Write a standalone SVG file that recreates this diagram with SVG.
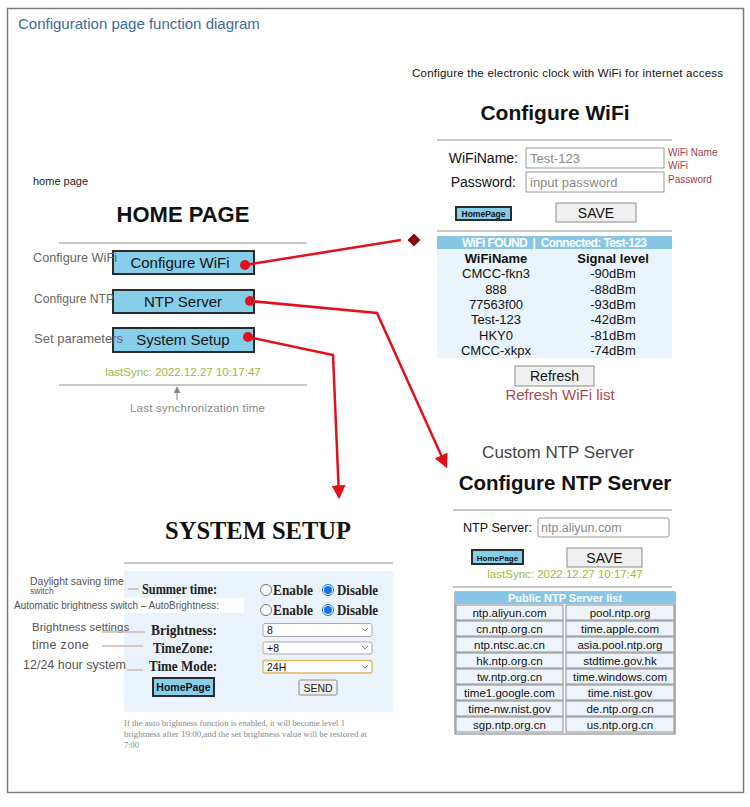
<svg xmlns="http://www.w3.org/2000/svg" width="750" height="807" viewBox="0 0 750 807">
<style>
.sans{font-family:"Liberation Sans","Noto Sans",Arial,sans-serif}
.serif{font-family:"Liberation Serif","DejaVu Serif",serif}
.btn{fill:#87ceeb;stroke:#2b2b2b;stroke-width:2}
.gbtn{fill:#f0f0f0;stroke:#8a8a8a;stroke-width:1}
.inp{fill:#fff;stroke:#9a9a9a;stroke-width:1}
.rule{stroke:#b4b4b4;stroke-width:1.5}
.lbl{fill:#666;font-size:13px}
.ann{fill:#555}
.annline{stroke:#d2b4b4;stroke-width:1.5}
.c{text-anchor:middle}
.cell{fill:#eef4fb;stroke:#8c8c8c;stroke-width:1}
.cellt{font-size:11.5px;fill:#111;text-anchor:middle}
.wrow{font-size:13px;fill:#111;text-anchor:middle}
.slbl{font-size:15px;fill:#222;font-weight:bold}
.radio{fill:#fff;stroke:#777;stroke-width:1}
.sel{fill:#fff;stroke:#aaa;stroke-width:1}
.chev{fill:none;stroke:#888;stroke-width:1}
.green{fill:#9cb83c;font-size:11.5px}
</style>
<defs>
<marker id="arrow" viewBox="0 0 12 12" refX="10" refY="6" markerWidth="14" markerHeight="14" markerUnits="userSpaceOnUse" orient="auto">
<path d="M0,0 L12,6 L0,12 z" fill="#e3101c"/>
</marker>
<marker id="diamond" viewBox="0 0 12 12" refX="-6" refY="6" markerWidth="13" markerHeight="13" markerUnits="userSpaceOnUse" orient="0">
<path d="M0,6 L6,0 L12,6 L6,12 z" fill="#8b0a0a"/>
</marker>
<marker id="garrow" viewBox="0 0 8 8" refX="7" refY="4" markerWidth="7" markerHeight="7" markerUnits="userSpaceOnUse" orient="auto">
<path d="M0,0 L8,4 L0,8 z" fill="#888"/>
</marker>
</defs>
<rect x="0" y="0" width="750" height="807" fill="#fff"/>
<rect x="7.5" y="8.5" width="736" height="784" fill="#fff" stroke="#7a7a7a" stroke-width="1.5"/>

<g id="title">
<text x="18" y="29" class="sans" font-size="15" fill="#3b6b98">Configuration page function diagram</text>
</g>
<g id="subtitle">
<text x="412" y="77" class="sans" font-size="11.5" fill="#111" textLength="311" lengthAdjust="spacing">Configure the electronic clock with WiFi for internet access</text>
</g>

<g id="home-page" class="sans">
<text x="33" y="185" font-size="11" fill="#222">home page</text>
<text x="183" y="222" class="c" font-size="22" font-weight="bold" fill="#111">HOME PAGE</text>
<line x1="59" y1="243" x2="307" y2="243" class="rule"/>
<rect x="113" y="251" width="141" height="23" class="btn"/>
<text x="180" y="268" class="c" font-size="15" fill="#111">Configure WiFi</text>
<rect x="113" y="290" width="141" height="23" class="btn"/>
<text x="183" y="307" class="c" font-size="15" fill="#111">NTP Server</text>
<rect x="113" y="328" width="141" height="24" class="btn"/>
<text x="183" y="345" class="c" font-size="15" fill="#111">System Setup</text>
<text x="33" y="262" class="lbl" textLength="84" lengthAdjust="spacingAndGlyphs">Configure WiFi</text>
<text x="34" y="303" class="lbl" textLength="80" lengthAdjust="spacingAndGlyphs">Configure NTP</text>
<text x="34" y="343" class="lbl" textLength="89" lengthAdjust="spacingAndGlyphs">Set parameters</text>
<text x="183" y="376" class="c green">lastSync: 2022.12.27 10:17:47</text>
<line x1="59" y1="385" x2="307" y2="385" class="rule"/>
<line x1="177" y1="400" x2="177" y2="387" stroke="#888" stroke-width="1" marker-end="url(#garrow)"/>
<text x="130" y="412" font-size="11.5" fill="#888" textLength="135" lengthAdjust="spacing">Last synchronization time</text>
</g>

<g id="wifi-page" class="sans">
<text x="555" y="120" class="c" font-size="21" font-weight="bold" fill="#111">Configure WiFi</text>
<line x1="437" y1="140" x2="672" y2="140" class="rule"/>
<text x="518" y="163" font-size="14" fill="#111" text-anchor="end">WiFiName:</text>
<rect x="526" y="148" width="138" height="20" class="inp"/>
<text x="530" y="163" font-size="13" fill="#888">Test-123</text>
<text x="516" y="187" font-size="14" fill="#111" text-anchor="end">Password:</text>
<rect x="526" y="172" width="138" height="20" class="inp"/>
<text x="530" y="187" font-size="13" fill="#888">input password</text>
<text x="668" y="156" font-size="10" fill="#a0404a">WiFi Name</text>
<text x="668" y="169" font-size="10" fill="#a0404a">WiFi</text>
<text x="668" y="183" font-size="10" fill="#a0404a">Password</text>
<rect x="456" y="207" width="55" height="13" class="btn" stroke-width="1.5"/>
<text x="483.5" y="217" class="c" font-size="8.5" font-weight="bold" fill="#111">HomePage</text>
<rect x="556" y="203" width="80" height="19" class="gbtn"/>
<text x="596" y="218" class="c" font-size="14" fill="#111">SAVE</text>
<line x1="437" y1="231" x2="672" y2="231" class="rule"/>
<rect x="437" y="236" width="235" height="122" fill="#eaf4fc"/>
<rect x="437" y="236" width="235" height="13" fill="#87c6e6"/>
<text x="462" y="247" font-size="12" font-weight="bold" fill="#fff" textLength="185" lengthAdjust="spacing" xml:space="preserve">WiFi FOUND  |  Connected: Test-123</text>
<text x="496" y="263" class="wrow" font-weight="bold">WiFiName</text>
<text x="613" y="263" class="wrow" font-weight="bold">Signal level</text>
<text x="496" y="278" class="wrow">CMCC-fkn3</text><text x="613" y="278" class="wrow">-90dBm</text>
<text x="496" y="294" class="wrow">888</text><text x="613" y="294" class="wrow">-88dBm</text>
<text x="496" y="309" class="wrow">77563f00</text><text x="613" y="309" class="wrow">-93dBm</text>
<text x="496" y="324" class="wrow">Test-123</text><text x="613" y="324" class="wrow">-42dBm</text>
<text x="496" y="340" class="wrow">HKY0</text><text x="613" y="340" class="wrow">-81dBm</text>
<text x="496" y="355" class="wrow">CMCC-xkpx</text><text x="613" y="355" class="wrow">-74dBm</text>
<rect x="515" y="366" width="79" height="20" class="gbtn"/>
<text x="554.5" y="381" class="c" font-size="14" fill="#111">Refresh</text>
<text x="560" y="400" class="c" font-size="15" fill="#b04a50">Refresh WiFi list</text>
</g>

<g id="ntp-page" class="sans">
<text x="558" y="458" class="c" font-size="17" fill="#444">Custom NTP Server</text>
<text x="565" y="490" class="c" font-size="20.5" font-weight="bold" fill="#111">Configure NTP Server</text>
<line x1="453" y1="510" x2="672" y2="510" class="rule"/>
<text x="463" y="532" font-size="13.5" fill="#111" textLength="69" lengthAdjust="spacingAndGlyphs">NTP Server:</text>
<rect x="538" y="518" width="131" height="19" rx="2" class="inp"/>
<text x="541" y="532" font-size="12.5" fill="#888">ntp.aliyun.com</text>
<rect x="472" y="550" width="51" height="14" class="btn" stroke-width="1.5"/>
<text x="497.5" y="560.5" class="c" font-size="8" font-weight="bold" fill="#111">HomePage</text>
<rect x="567" y="548" width="75" height="19" class="gbtn"/>
<text x="604.5" y="563" class="c" font-size="14" fill="#111">SAVE</text>
<text x="565" y="578" class="c green">lastSync: 2022.12.27 10:17:47</text>
<line x1="453" y1="587" x2="672" y2="587" class="rule"/>
<rect x="455" y="592" width="220" height="142" fill="#fff" stroke="#777" stroke-width="1"/>
<rect x="455" y="592" width="220" height="12" fill="#87c6e6"/>
<text x="565" y="602" class="c" font-size="11" font-weight="bold" fill="#fff">Public NTP Server list</text>
<g>
<rect x="456" y="605" width="107" height="15" class="cell"/><rect x="566" y="605" width="108" height="15" class="cell"/>
<rect x="456" y="621" width="107" height="15" class="cell"/><rect x="566" y="621" width="108" height="15" class="cell"/>
<rect x="456" y="637" width="107" height="15" class="cell"/><rect x="566" y="637" width="108" height="15" class="cell"/>
<rect x="456" y="653" width="107" height="15" class="cell"/><rect x="566" y="653" width="108" height="15" class="cell"/>
<rect x="456" y="669" width="107" height="15" class="cell"/><rect x="566" y="669" width="108" height="15" class="cell"/>
<rect x="456" y="685" width="107" height="15" class="cell"/><rect x="566" y="685" width="108" height="15" class="cell"/>
<rect x="456" y="701" width="107" height="15" class="cell"/><rect x="566" y="701" width="108" height="15" class="cell"/>
<rect x="456" y="717" width="107" height="15" class="cell"/><rect x="566" y="717" width="108" height="15" class="cell"/>
</g>
<text x="509.5" y="617" class="cellt">ntp.aliyun.com</text><text x="620" y="617" class="cellt">pool.ntp.org</text>
<text x="509.5" y="633" class="cellt">cn.ntp.org.cn</text><text x="620" y="633" class="cellt">time.apple.com</text>
<text x="509.5" y="649" class="cellt">ntp.ntsc.ac.cn</text><text x="620" y="649" class="cellt">asia.pool.ntp.org</text>
<text x="509.5" y="665" class="cellt">hk.ntp.org.cn</text><text x="620" y="665" class="cellt">stdtime.gov.hk</text>
<text x="509.5" y="681" class="cellt">tw.ntp.org.cn</text><text x="620" y="681" class="cellt">time.windows.com</text>
<text x="509.5" y="697" class="cellt">time1.google.com</text><text x="620" y="697" class="cellt">time.nist.gov</text>
<text x="509.5" y="713" class="cellt">time-nw.nist.gov</text><text x="620" y="713" class="cellt">de.ntp.org.cn</text>
<text x="509.5" y="729" class="cellt">sgp.ntp.org.cn</text><text x="620" y="729" class="cellt">us.ntp.org.cn</text>
</g>

<g id="system-setup" class="serif">
<text x="258" y="539" class="c" font-size="24.5" font-weight="bold" fill="#111">SYSTEM SETUP</text>
<line x1="124" y1="563" x2="393" y2="563" class="rule"/>
<rect x="124" y="571" width="269" height="141" fill="#eaf3fb"/>
<text x="142" y="594" class="slbl" textLength="75" lengthAdjust="spacingAndGlyphs">Summer time:</text>
<circle cx="266" cy="590" r="5.5" class="radio"/>
<text x="273" y="595" class="slbl" textLength="40" lengthAdjust="spacingAndGlyphs">Enable</text>
<circle cx="328" cy="590" r="5.5" fill="#fff" stroke="#1a73e8" stroke-width="1"/>
<circle cx="328" cy="590" r="4" fill="#1a73e8"/>
<text x="337" y="595" class="slbl" textLength="41" lengthAdjust="spacingAndGlyphs">Disable</text>
<circle cx="266" cy="610" r="5.5" class="radio" stroke="#bbb"/>
<text x="273" y="615" class="slbl" textLength="40" lengthAdjust="spacingAndGlyphs">Enable</text>
<circle cx="328" cy="610" r="5.5" fill="#fff" stroke="#1a73e8" stroke-width="1"/>
<circle cx="328" cy="610" r="4" fill="#1a73e8"/>
<text x="337" y="615" class="slbl" textLength="41" lengthAdjust="spacingAndGlyphs">Disable</text>
<text x="151" y="635" class="slbl" textLength="66" lengthAdjust="spacingAndGlyphs">Brightness:</text>
<rect x="263" y="623.5" width="109" height="13" rx="2" class="sel"/>
<text x="267" y="634" font-size="10.5" fill="#111" class="sans">8</text>
<polyline points="362,628 365,631 368,628" class="chev"/>
<text x="153" y="653" class="slbl" textLength="60" lengthAdjust="spacingAndGlyphs">TimeZone:</text>
<rect x="263" y="642" width="109" height="12" rx="2" class="sel"/>
<text x="267" y="652" font-size="10.5" fill="#111" class="sans">+8</text>
<polyline points="362,646 365,649 368,646" class="chev"/>
<text x="149" y="671" class="slbl" textLength="68" lengthAdjust="spacingAndGlyphs">Time Mode:</text>
<rect x="263" y="660.5" width="109" height="12.5" rx="2" fill="#fff" stroke="#e2b45a" stroke-width="1.3"/>
<text x="267" y="670.5" font-size="10.5" fill="#111" class="sans">24H</text>
<polyline points="362,665 365,668 368,665" class="chev"/>
<rect x="153" y="678" width="61" height="18" class="btn" stroke-width="1.5"/>
<text x="183.5" y="691" class="c sans" font-size="10.5" font-weight="bold" fill="#111">HomePage</text>
<rect x="299" y="680" width="38" height="15" rx="1.5" class="gbtn"/>
<text x="318" y="691.5" class="c sans" font-size="10.5" fill="#222">SEND</text>
<text x="124" y="726" font-size="8.5" fill="#888" textLength="221" lengthAdjust="spacingAndGlyphs">If the auto brightness function is enabled, it will become level 1</text>
<text x="124" y="737" font-size="8.5" fill="#888" textLength="243" lengthAdjust="spacingAndGlyphs">brightness after 19:00,and the set brightness value will be restored at</text>
<text x="124" y="748" font-size="8.5" fill="#888">7:00</text>
</g>

<g id="annotations" class="sans">
<text x="30" y="585" font-size="10.5" class="ann">Daylight saving time</text>
<text x="30" y="594" font-size="8.5" class="ann">switch</text>
<line x1="128" y1="589" x2="139" y2="589" class="annline"/>
<rect x="12" y="598" width="232" height="15" fill="#fff" opacity="0.85"/>
<text x="14" y="609" font-size="10" class="ann">Automatic brightness switch – AutoBrightness:</text>
<text x="32" y="631" font-size="11.5" class="ann">Brightness settings</text>
<line x1="102" y1="632" x2="145" y2="632" class="annline"/>
<text x="32" y="649" font-size="12.5" class="ann" letter-spacing="0.3">time zone</text>
<line x1="102" y1="646" x2="143" y2="646" class="annline"/>
<text x="23" y="669" font-size="12.5" class="ann">12/24 hour system</text>
<line x1="127" y1="670" x2="143" y2="670" class="annline"/>
</g>

<g id="connectors" fill="none" stroke="#e3101c" stroke-width="2.5" stroke-linejoin="miter">
<polyline points="245,265 401,240" marker-end="url(#diamond)"/>
<polyline points="250,301 377,313 446,466" marker-end="url(#arrow)"/>
<polyline points="248,337 333,355 339,497" marker-end="url(#arrow)"/>
<circle cx="245" cy="265" r="5" fill="#e3101c" stroke="none"/>
<circle cx="250" cy="301" r="5" fill="#e3101c" stroke="none"/>
<circle cx="248" cy="337" r="5" fill="#e3101c" stroke="none"/>
</g>
</svg>
